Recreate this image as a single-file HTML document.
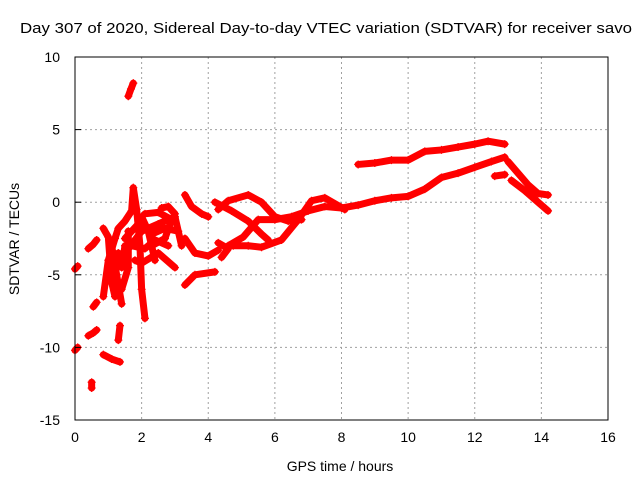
<!DOCTYPE html>
<html><head><meta charset="utf-8"><style>
body{margin:0;background:#fff;}
svg{display:block;font-family:"Liberation Sans",sans-serif;}
</style></head><body>
<svg id="chart" width="640" height="480" viewBox="0 0 640 480" xmlns="http://www.w3.org/2000/svg">
<rect x="0" y="0" width="640" height="480" fill="#fff"/>
<text x="20" y="33" font-size="15" textLength="612" lengthAdjust="spacingAndGlyphs" fill="#000">Day 307 of 2020, Sidereal Day-to-day VTEC variation (SDTVAR) for receiver savo</text>
<g id="grid"></g>
<g id="marks"></g>
<g id="axes"></g>
<text x="340" y="471" font-size="14" text-anchor="middle">GPS time / hours</text>
<text transform="translate(19,239) rotate(-90)" font-size="14" text-anchor="middle">SDTVAR / TECUs</text>
</svg>
<script>
const xTicks=[0,2,4,6,8,10,12,14,16];
const yTicks=[10,5,0,-5,-10,-15];
const track01=[[0.0,-4.6],[0.08,-4.4]];
const track02=[[0.0,-10.2],[0.08,-10.0]];
const track03=[[0.4,-3.2],[0.55,-2.9],[0.65,-2.6]];
const track04=[[0.4,-9.2],[0.55,-9.0],[0.65,-8.8]];
const track05=[[0.5,-12.4],[0.5,-12.8]];
const track06=[[0.85,-10.5],[1.1,-10.8],[1.35,-11.0]];
const track07=[[0.55,-7.2],[0.65,-6.9]];
const track08=[[0.85,-6.5],[1.0,-4.0],[1.2,-2.5],[1.3,-1.8],[1.5,-1.3],[1.7,-0.6],[1.75,1.0],[1.85,-0.5],[1.95,-3.0],[2.0,-6.0],[2.1,-8.0]];
const track09=[[1.3,-9.5],[1.35,-8.5]];
const track10=[[1.6,7.3],[1.68,7.8],[1.75,8.2]];
const track11=[[1.1,-3.0],[1.25,-5.0],[1.4,-7.0]];
const track12=[[0.85,-1.8],[1.0,-2.4],[1.1,-5.5],[1.2,-6.5]];
const track13=[[1.5,-3.5],[2.0,-2.0],[2.5,-1.5],[3.0,-1.0],[3.2,-3.0]];
const track14=[[1.8,-4.0],[2.0,-4.2],[2.5,-3.5],[3.0,-4.5]];
const track15=[[2.1,-0.8],[2.5,-0.7],[2.9,-1.2],[2.7,-2.5],[2.3,-3.0]];
const track16=[[1.6,-2.0],[1.6,-4.5],[1.4,-6.0]];
const track17=[[3.3,0.5],[3.5,-0.3],[3.8,-0.8],[4.0,-1.0]];
const track18=[[3.3,-2.5],[3.6,-3.5],[4.0,-3.7],[4.3,-3.3]];
const track19=[[3.3,-5.7],[3.6,-5.0],[4.2,-4.8]];
const track20=[[4.3,-0.5],[4.6,0.1],[5.2,0.5],[5.6,0.0],[6.0,-1.0],[6.4,-1.3],[6.8,-1.2]];
const track21=[[4.2,0.0],[4.7,-0.6],[5.2,-1.3],[5.6,-2.2],[5.8,-2.6]];
const track22=[[4.3,-2.8],[4.6,-3.2],[4.4,-3.8]];
const track23=[[4.6,-3.0],[5.05,-2.4],[5.5,-1.2],[6.0,-1.2],[6.5,-1.0],[7.0,-0.6],[7.5,-0.3],[8.0,-0.4],[8.5,-0.2],[9.0,0.1],[9.5,0.3],[10.0,0.4],[10.5,0.9],[11.0,1.7],[11.5,2.0],[12.0,2.4],[12.5,2.8],[12.9,3.1]];
const track24=[[4.75,-3.0],[5.2,-3.0],[5.6,-3.1],[6.2,-2.6],[6.7,-1.2],[7.1,0.1],[7.5,0.3],[8.1,-0.5]];
const track25=[[8.5,2.6],[9.0,2.7],[9.5,2.9],[10.0,2.9],[10.5,3.5],[11.0,3.6],[11.5,3.8],[12.0,4.0],[12.4,4.2],[12.9,4.0]];
const track26=[[12.6,1.8],[12.9,1.9]];
const track27=[[13.0,2.8],[13.3,2.0],[13.6,1.2],[13.9,0.6],[14.2,0.5]];
const track28=[[13.1,1.5],[13.5,0.8],[13.9,0.0],[14.2,-0.6]];
const track29=[[1.5,-2.5],[1.9,-1.5],[2.3,-2.2],[2.7,-1.8],[3.1,-2.0]];
const track30=[[1.7,-3.0],[2.1,-3.2],[2.4,-2.6],[2.8,-3.0]];
const track31=[[2.0,-1.0],[2.2,-2.0],[2.4,-4.0]];
const track32=[[2.6,-0.4],[2.8,-0.3],[3.0,-0.8]];
const track33=[[1.3,-3.5],[1.4,-4.5],[1.5,-3.0]];
const tracks=[track01,track02,track03,track04,track05,track06,track07,track08,track09,track10,track11,track12,track13,track14,track15,track16,track17,track18,track19,track20,track21,track22,track23,track24,track25,track26,track27,track28,track29,track30,track31,track32,track33];

const L=75,R=608,T=57,B=420,X0=0,X1=16,Y0=-15,Y1=10;
const sx=v=>L+(v-X0)/(X1-X0)*(R-L);
const sy=v=>B-(v-Y0)/(Y1-Y0)*(B-T);
const NS='http://www.w3.org/2000/svg';
function mk(tag,attrs,parent){const e=document.createElementNS(NS,tag);for(const k in attrs)e.setAttribute(k,attrs[k]);parent.appendChild(e);return e;}
const grid=document.getElementById('grid'),axes=document.getElementById('axes'),marks=document.getElementById('marks');
xTicks.forEach(t=>{
  const x=sx(t);
  if(t>X0&&t<X1){const g=mk('line',{x1:x,y1:T,x2:x,y2:B,stroke:'#a0a0a0','stroke-dasharray':'2,3'},grid);
  
  }
  const l=mk('text',{x:x,y:B+22,'font-size':14,'text-anchor':'middle'},axes);l.textContent=t;
  
  
});
yTicks.forEach(t=>{
  const y=sy(t);
  if(t>Y0&&t<Y1){const g=mk('line',{x1:L,y1:y,x2:R,y2:y,stroke:'#a0a0a0','stroke-dasharray':'2,3'},grid);
  
  
  mk('line',{x1:L,y1:y,x2:L+6,y2:y,stroke:'#000'},axes);}
  const l=mk('text',{x:L-15,y:y+5,'font-size':14,'text-anchor':'end'},axes);l.textContent=t;
  
  
});
const fr=mk('rect',{x:L,y:T,width:R-L,height:B-T,fill:'none',stroke:'#000','stroke-width':1},axes);


tracks.forEach(tr=>{
  const pts=tr.map(p=>sx(p[0])+','+sy(p[1])).join(' ');
  const pl=mk('polyline',{points:pts,fill:'none',stroke:'#ff0000','stroke-width':7,'stroke-linejoin':'round','stroke-linecap':'round'},marks);
  
  
  tr.forEach(p=>{
    const x=sx(p[0]),y=sy(p[1]);
    const m=mk('path',{d:`M${x-4},${y}H${x+4}M${x},${y-4}V${y+4}`,stroke:'#ff0000','stroke-width':1.2},marks);
    
    
  });
});
</script>
</body></html>
